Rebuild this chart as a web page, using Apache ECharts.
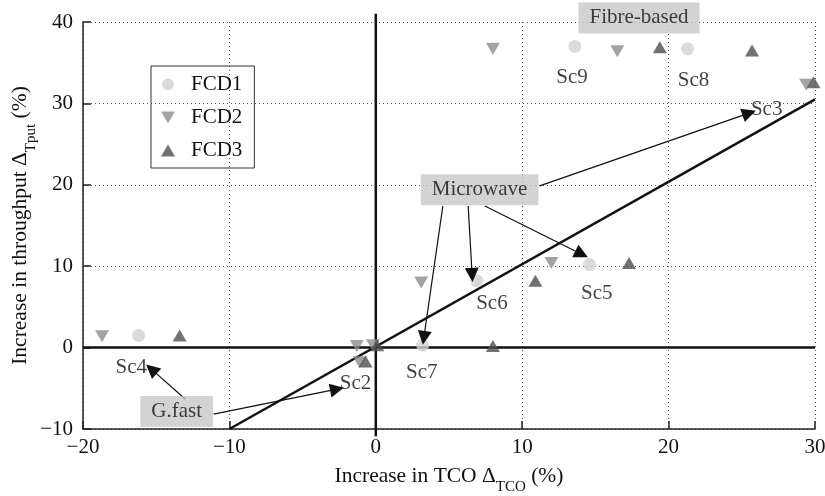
<!DOCTYPE html>
<html>
<head>
<meta charset="utf-8">
<script src="https://cdn.jsdelivr.net/npm/echarts@6/dist/echarts.min.js"></script>
<style>
  html, body { margin: 0; padding: 0; background: #fff; }
  #chart { width: 825px; height: 496px; }
</style>
</head>
<body>
<div id="chart"></div>
<script>
// Axis ranges and ticks
const xTicks = [-20, -10, 0, 10, 20, 30];
const yTicks = [-10, 0, 10, 20, 30, 40];

// Scenario results per FCD: [increase in TCO %, increase in throughput %]
const fcd1 = [[-16.2, 1.5], [3.2, 0.3], [6.9, 8.2], [14.6, 10.2], [13.6, 37.0], [21.3, 36.7]];
const fcd2 = [[-18.7, 1.4], [-1.3, 0.2], [-1.1, -1.8], [-0.2, 0.3], [3.1, 8.0], [12.0, 10.4],
              [8.0, 36.7], [16.5, 36.4], [29.4, 32.3]];
const fcd3 = [[-13.4, 1.5], [-0.7, -1.7], [0.1, 0.3], [8.0, 0.2], [10.9, 8.2], [17.3, 10.4],
              [19.4, 36.9], [25.7, 36.5], [29.9, 32.6]];

// Break-even reference line
const refLine = [[-10, -10], [30, 30.5]];

// Scenario labels
const scenarioNames = ['Sc9', 'Sc8', 'Sc3', 'Sc6', 'Sc5', 'Sc7', 'Sc4', 'Sc2'];
const scenarioPos = [[13.4, 33.2], [21.7, 32.8], [26.7, 29.3], [7.93, 5.4], [15.1, 6.6],
                     [3.14, -3.07], [-16.7, -2.46], [-1.39, -4.42]];

// Technology group boxes
const groupNames = ['Fibre-based', 'Microwave', 'G.fast'];
const groupPos = [[17.98, 40.5], [7.09, 19.4], [-13.6, -7.84]];

// Arrows from group boxes to scenarios
const arrowSegments = [
  [[11.19, 19.87], [25.5, 28.8]],
  [[4.58, 17.4], [3.28, 1.19]],
  [[6.31, 17.4], [6.58, 8.93]],
  [[7.45, 17.4], [14.06, 11.47]],
  [[-13.0, -6.34], [-15.33, -2.65]],
  [[-11.07, -8.18], [-2.65, -5.11]]
];

const FONT = '"Liberation Serif", "Times New Roman", serif';
const INK = '#111';
const minus = v => String(v).replace('-', '\u2212');
const downTri = 'path://M0,0 L14,0 L7,12 Z';
const upTri = 'path://M7,0 L14,12 L0,12 Z';

const titleRich = {
  n: { fontFamily: FONT, fontSize: 21.5, color: INK, lineHeight: 26, verticalAlign: 'top' },
  s: { fontFamily: FONT, fontSize: 15, color: INK, lineHeight: 15, padding: [15, 0, 0, 0], verticalAlign: 'top' }
};

const chart = echarts.init(document.getElementById('chart'), null, { renderer: 'canvas' });

chart.setOption({
  animation: false,
  backgroundColor: '#fff',
  textStyle: { fontFamily: FONT, color: INK },
  grid: { left: 83, right: 10, top: 22, bottom: 67, containLabel: false, outerBoundsMode: 'none' },
  legend: {
    orient: 'vertical',
    left: 151, top: 66,
    padding: [8, 12, 7, 10],
    itemGap: 12,
    itemWidth: 14, itemHeight: 12,
    borderColor: '#333', borderWidth: 1,
    textStyle: { fontFamily: FONT, fontSize: 21, color: INK, padding: [0, 0, 0, 11] },
    data: [
      { name: 'FCD1', icon: 'circle' },
      { name: 'FCD2', icon: downTri },
      { name: 'FCD3', icon: upTri }
    ]
  },
  xAxis: {
    type: 'value', min: xTicks[0], max: xTicks[xTicks.length - 1], interval: 10,
    name: '{n|Increase in TCO Δ}{s|TCO}{n| (%)}',
    nameLocation: 'middle', nameGap: 36, nameMoveOverlap: false,
    nameTextStyle: { rich: titleRich },
    axisLine: { onZero: false, lineStyle: { color: '#222', width: 1.5 } },
    axisTick: { inside: true, length: 8, lineStyle: { color: '#222', width: 1.5 } },
    axisLabel: { fontFamily: FONT, fontSize: 21, color: INK, margin: 8, formatter: minus },
    splitLine: { show: true, lineStyle: { color: '#555', type: [1, 3], width: 1 } }
  },
  yAxis: {
    type: 'value', min: yTicks[0], max: yTicks[yTicks.length - 1], interval: 10,
    name: '{n|Increase in throughput Δ}{s|Tput}{n| (%)}',
    nameLocation: 'middle', nameGap: 48, nameRotate: 90, nameMoveOverlap: false,
    nameTextStyle: { rich: titleRich },
    axisLine: { onZero: false, lineStyle: { color: '#222', width: 1.5 } },
    axisTick: { inside: true, length: 8, lineStyle: { color: '#222', width: 1.5 } },
    axisLabel: { fontFamily: FONT, fontSize: 21, color: INK, margin: 10, formatter: minus },
    splitLine: { show: true, lineStyle: { color: '#555', type: [1, 3], width: 1 } }
  },
  series: [
    // Zero axes and break-even line
    { type: 'line', data: [[0, -10.9], [0, 41]], clip: false, symbol: 'none', silent: true,
      lineStyle: { color: '#111', width: 2.5 }, z: 3 },
    { type: 'line', data: [[-20, 0], [30, 0]], symbol: 'none', silent: true,
      lineStyle: { color: '#111', width: 2.5 }, z: 3 },
    { type: 'line', data: refLine, symbol: 'none', silent: true,
      lineStyle: { color: '#111', width: 2.5 }, z: 3 },
    // Scenario points
    { name: 'FCD1', type: 'scatter', data: fcd1, symbol: 'circle', symbolSize: 13,
      itemStyle: { color: '#d2d2d2' }, z: 4 },
    { name: 'FCD2', type: 'scatter', data: fcd2, symbol: downTri, symbolSize: [14, 12],
      itemStyle: { color: '#8c8c8c' }, z: 4 },
    { name: 'FCD3', type: 'scatter', data: fcd3, symbol: upTri, symbolSize: [14, 12],
      itemStyle: { color: '#4f4f4f' }, z: 4 },
    // Arrows
    { type: 'lines', coordinateSystem: 'cartesian2d', silent: true, z: 5,
      symbol: ['none', 'triangle'], symbolSize: [11, 14],
      lineStyle: { color: '#111', width: 1.2, opacity: 1 },
      data: arrowSegments.map(seg => ({ coords: seg })) },
    // Scenario labels
    { type: 'scatter', silent: true, clip: false, symbolSize: 0, z: 6,
      data: scenarioPos.map((p, i) => ({ value: p, name: scenarioNames[i] })),
      label: { show: true, position: 'inside', formatter: '{b}',
               fontFamily: FONT, fontSize: 21, color: INK } },
    // Group boxes
    { type: 'scatter', silent: true, clip: false, symbolSize: 0, z: 7,
      data: groupPos.map((p, i) => ({ value: p, name: groupNames[i] })),
      label: { show: true, position: 'inside', formatter: '{b}',
               fontFamily: FONT, fontSize: 21, color: INK,
               backgroundColor: '#c8c8c8', padding: [6, 11, 4, 11] } }
  ]
});
</script>
</body>
</html>
